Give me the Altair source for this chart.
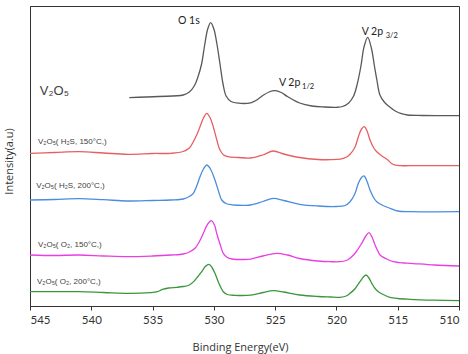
import altair as alt
import pandas as pd

# Binding energies (eV) and offset intensities (a.u.) for each spectrum
gray_be = [536.9, 534.5, 532.5, 532.0, 531.6, 531.3, 531.0, 530.75, 530.5, 530.26, 530.0, 529.75,
           529.5, 529.25, 529.0, 528.6, 528.0, 527.0, 526.5, 526.0, 525.5, 525.0, 524.5, 524.0,
           523.0, 522.0, 521.0, 520.0, 519.5, 519.0, 518.6, 518.3, 518.0, 517.75, 517.45, 517.15,
           516.9, 516.7, 516.45, 516.1, 515.7, 515.2, 514.7, 514.2, 513.0, 510.0]
gray_int = [208.3, 209.5, 211, 214, 220, 229, 242, 261, 277, 283.3, 277, 262,
            242, 222, 210, 204.5, 202.8, 203.2, 206, 210.5, 214, 215.3, 213.5, 209.5,
            203, 200, 199, 198.7, 199.5, 203, 210, 222, 240, 259, 268.7, 258,
            240, 226, 211, 204, 199.5, 195, 192.3, 191, 190.5, 190.3]

red_be = [545.0, 543.0, 541.0, 539.0, 537.0, 535.0, 533.5, 532.5, 532.0, 531.68, 531.4, 531.13,
          530.85, 530.58, 530.3, 530.05, 529.8, 529.5, 529.2, 528.85, 528.0, 527.0, 526.0, 525.15,
          524.3, 523.0, 521.5, 520.5, 519.7, 519.2, 518.89, 518.5, 518.21, 517.95, 517.73, 517.5,
          517.26, 516.95, 516.71, 516.4, 516.1, 515.8, 515.5, 515.2, 514.8, 514.0, 510.0]
red_int = [152.7, 153.5, 154.3, 153.0, 151.7, 152.5, 152.7, 154.5, 158.0, 164.3, 171.0, 179.3,
           188.0, 192.7, 188.0, 179.3, 168.0, 156.0, 151.0, 149.3, 148.5, 148.0, 151.0, 155.0,
           152.0, 148.5, 146.5, 146.3, 146.8, 148.8, 151.8, 158.5, 169.3, 177.0, 179.3, 175.0,
           166.0, 158.0, 154.3, 151.0, 148.5, 146.0, 142.5, 140.8, 140.3, 140.3, 140.3]

blue_be = [545.0, 543.0, 541.0, 539.0, 537.0, 535.0, 533.5, 532.5, 532.0, 531.68, 531.4, 531.13,
           530.85, 530.58, 530.3, 529.91, 529.6, 529.36, 529.0, 528.5, 527.5, 527.0, 526.0, 525.15,
           524.3, 523.0, 521.5, 520.0, 519.3, 518.89, 518.5, 518.21, 517.95, 517.75, 517.5, 517.26,
           516.95, 516.71, 516.2, 515.63, 515.0, 514.0, 510.0]
blue_int = [106.0, 106.5, 107.3, 106.3, 105.0, 105.5, 106.0, 107.0, 109.5, 112.7, 120.0, 129.3,
            137.0, 141.0, 137.5, 126.0, 114.0, 106.0, 102.5, 101.2, 100.7, 101.0, 104.5, 107.7,
            105.5, 101.7, 100.0, 99.5, 100.5, 104.3, 112.0, 122.7, 128.5, 130.0, 124.5, 116.0,
            108.0, 104.3, 100.5, 97.7, 95.0, 94.3, 94.3]

mag_be = [545.0, 543.0, 541.0, 539.0, 537.0, 535.0, 533.5, 532.5, 532.0, 531.54, 531.2, 530.86,
          530.5, 530.21, 529.95, 529.77, 529.5, 529.23, 528.9, 528.5, 527.5, 527.0, 526.0, 524.87,
          524.0, 523.0, 521.5, 520.5, 519.7, 519.2, 518.89, 518.4, 517.94, 517.6, 517.34, 517.1,
          516.85, 516.6, 516.44, 515.9, 515.36, 514.5, 514.0, 512.0, 510.0]
mag_int = [51.0, 50.5, 51.0, 50.0, 49.3, 50.0, 51.0, 52.0, 54.0, 57.7, 64.0, 72.7,
           82.0, 85.3, 81.0, 72.7, 62.0, 52.7, 48.5, 47.0, 46.5, 46.9, 50.0, 52.7,
           51.0, 47.5, 45.0, 44.3, 44.3, 45.5, 47.7, 54.0, 62.7, 70.0, 73.3, 69.0,
           61.0, 54.5, 51.0, 47.0, 44.3, 43.0, 42.7, 41.0, 40.0]

green_be = [545.0, 543.0, 541.0, 539.0, 537.0, 535.2, 534.6, 534.2, 533.7, 533.0, 532.5, 532.0,
            531.6, 531.3, 530.99, 530.7, 530.4, 530.15, 529.91, 529.6, 529.23, 528.9, 528.3, 527.0,
            526.0, 525.15, 524.3, 523.0, 521.5, 520.5, 519.7, 519.2, 518.89, 518.5, 518.08, 517.8,
            517.59, 517.35, 517.12, 516.85, 516.58, 516.1, 515.63, 515.0, 514.0, 512.0, 510.0]
green_int = [14.3, 14.3, 14.3, 13.5, 12.7, 13.3, 14.3, 16.6, 18.0, 18.7, 19.5, 21.0,
             25.0, 29.5, 34.3, 39.5, 41.7, 38.5, 32.7, 23.0, 14.3, 11.5, 10.7, 10.9,
             13.5, 15.3, 14.0, 11.0, 9.5, 9.0, 8.7, 10.0, 12.7, 17.0, 24.3, 29.0,
             31.0, 28.0, 22.7, 17.5, 14.3, 11.0, 8.7, 7.5, 6.7, 5.8, 5.3]

series_names = ["V2O5", "H2S 150", "H2S 200", "O2 150", "O2 200"]
series_colors = ["#595959", "#e65f62", "#4a8cdd", "#e83fe3", "#3b963b"]
x_ticks = [545, 540, 535, 530, 525, 520, 515, 510]

frames = []
for name, be, inten in zip(series_names,
                           [gray_be, red_be, blue_be, mag_be, green_be],
                           [gray_int, red_int, blue_int, mag_int, green_int]):
    frames.append(pd.DataFrame({"series": name, "be": be, "intensity": inten}))
spectra = pd.concat(frames, ignore_index=True)

x_scale = alt.Scale(domain=[510, 545], reverse=True, nice=False)
y_scale = alt.Scale(domain=[0, 300], nice=False)

lines = alt.Chart(spectra).mark_line(strokeWidth=1.3, interpolate="catmull-rom", clip=True).encode(
    x=alt.X("be:Q", scale=x_scale,
            axis=alt.Axis(values=x_ticks, tickSize=4, labelPadding=4, labelFontSize=11.5,
                          labelFont="Lato", labelColor="#333333", domainColor="#333333",
                          tickColor="#333333", grid=False, title="Binding Energy(eV)",
                          titleFont="Open Sans", titleFontSize=11, titleFontWeight="normal",
                          titleColor="#333333", titleX=210, titleY=41, titleBaseline="middle")),
    y=alt.Y("intensity:Q", scale=y_scale,
            axis=alt.Axis(labels=False, ticks=False, grid=False, domainColor="#333333",
                          title="Intensity(a.u)", titleFont="Open Sans", titleFontSize=11,
                          titleFontWeight="normal", titleColor="#333333", titleAngle=-90,
                          titleX=-21, titleY=155, titleAlign="center", titleBaseline="middle")),
    color=alt.Color("series:N", scale=alt.Scale(domain=series_names, range=series_colors), legend=None),
    detail="series:N",
)


def label(text, be, inten, size, font="Liberation Sans", color="#404040"):
    return alt.Chart().mark_text(text=text, align="left", baseline="middle", fontSize=size,
                                 font=font, color=color).encode(
        x=alt.datum(be, scale=x_scale), y=alt.datum(inten, scale=y_scale))


labels = [
    label("V₂O₅", 544.2, 215, 13),
    label("V₂O₅( H₂S, 150°C,)", 544.35, 164, 8),
    label("V₂O₅( H₂S, 200°C,)", 544.5, 120, 8),
    label("V₂O₅( O₂, 150°C,)", 544.35, 61, 8),
    label("V₂O₅( O₂, 200°C,)", 544.43, 24.5, 8),
    label("O 1s", 532.93, 285, 10.5, "Lato", "#222222"),
    label("V 2p", 524.69, 223.3, 10.5, "Lato", "#222222"),
    label("1/2", 522.8, 219.5, 7.5, "Lato", "#222222"),
    label("V 2p", 517.94, 274.3, 10.5, "Lato", "#222222"),
    label("3/2", 515.98, 270.5, 7.5, "Lato", "#222222"),
]

chart = alt.layer(lines, *labels).properties(
    width=429, height=300,
    padding={"left": 30, "top": 6, "right": 9, "bottom": 48},
    autosize=alt.AutoSizeParams(type="none"),
).configure_view(stroke="#333333", strokeWidth=1)

chart.save("out.html", embed_options={"renderer": "svg", "actions": False})
